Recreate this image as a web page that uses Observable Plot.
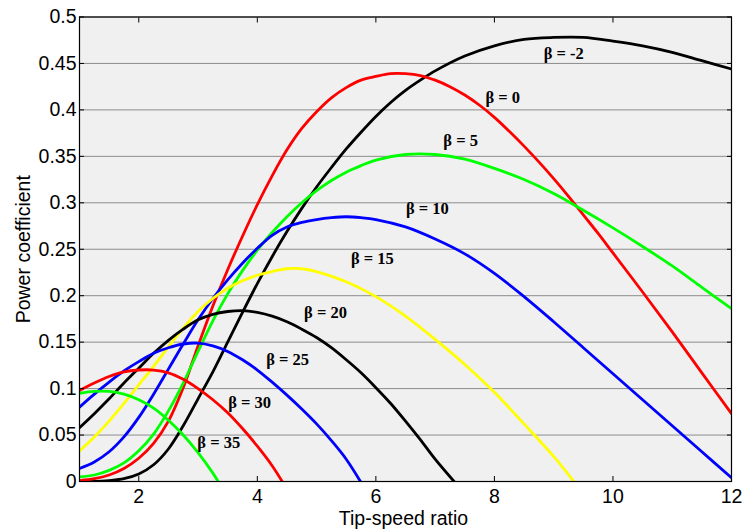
<!DOCTYPE html>
<html><head><meta charset="utf-8">
<script src="https://cdn.jsdelivr.net/npm/d3@7"></script>
<script src="https://cdn.jsdelivr.net/npm/@observablehq/plot@0.6"></script>
<style>html,body{margin:0;padding:0;background:#fff;}</style>
</head><body><div id="chart"></div>
<script>
// Tick labels
const xTicks = [2, 4, 6, 8, 10, 12];
const yTicks = [0, 0.05, 0.1, 0.15, 0.2, 0.25, 0.3, 0.35, 0.4, 0.45, 0.5];

// Curves (tip-speed ratio, power coefficient)
const lamBm2 = [1,1.25,1.5,1.75,2,2.25,2.5,2.75,3,3.25,3.5,3.75,4,4.25,4.5,4.75,5,5.25,5.5,5.75,6,6.25,6.5,6.75,7,7.5,8,8.5,9,9.5,10,10.5,11,11.5,12];
const cpBm2  = [0,0,0.001,0.003,0.008,0.018,0.035,0.060,0.089,0.118,0.150,0.182,0.213,0.242,0.269,0.294,0.317,0.338,0.358,0.376,0.393,0.408,0.421,0.432,0.442,0.458,0.469,0.476,0.478,0.478,0.474,0.469,0.462,0.453,0.444];

const lamB0 = [1,1.25,1.5,1.75,2,2.25,2.5,2.75,3,3.25,3.5,3.75,4,4.25,4.5,4.75,5,5.25,5.5,5.75,6,6.25,6.5,6.75,7,7.25,7.5,7.75,8,8.25,8.5,8.75,9,9.25,9.5,9.75,10,10.5,11,11.5,12];
const cpB0  = [0.001,0.003,0.007,0.014,0.025,0.041,0.065,0.101,0.146,0.189,0.228,0.264,0.298,0.329,0.357,0.380,0.398,0.413,0.424,0.432,0.436,0.439,0.439,0.437,0.432,0.425,0.416,0.405,0.392,0.377,0.361,0.344,0.326,0.307,0.287,0.267,0.246,0.204,0.161,0.117,0.073];

const lamB5 = [1,1.25,1.5,1.75,2,2.25,2.5,2.75,3,3.25,3.5,3.75,4,4.25,4.5,4.75,5,5.25,5.5,5.75,6,6.5,7,7.5,8,8.5,9,9.5,10,10.5,11,11.5,12];
const cpB5  = [0.005,0.007,0.012,0.020,0.033,0.051,0.076,0.106,0.140,0.173,0.202,0.227,0.249,0.268,0.285,0.300,0.313,0.324,0.333,0.340,0.346,0.352,0.352,0.347,0.337,0.325,0.310,0.292,0.273,0.253,0.232,0.209,0.186];

const lamB10 = [1,1.25,1.5,1.75,2,2.25,2.5,2.75,3,3.25,3.5,3.75,4,4.25,4.5,4.75,5,5.25,5.5,5.75,6,6.5,7,7.5,8,8.5,9,9.5,10,10.5,11,11.5,12];
const cpB10  = [0.014,0.021,0.032,0.048,0.069,0.094,0.121,0.148,0.174,0.197,0.217,0.235,0.251,0.265,0.274,0.279,0.282,0.284,0.285,0.284,0.282,0.274,0.261,0.245,0.224,0.199,0.172,0.144,0.116,0.088,0.060,0.032,0.004];

const lamB15 = [1,1.25,1.5,1.75,2,2.25,2.5,2.75,3,3.25,3.5,3.75,4,4.25,4.5,4.75,5,5.5,6,6.5,7,7.5,8,8.5,9,9.34];
const cpB15  = [0.033,0.048,0.065,0.084,0.104,0.124,0.145,0.165,0.183,0.197,0.208,0.216,0.222,0.226,0.229,0.229,0.226,0.215,0.199,0.178,0.153,0.126,0.096,0.062,0.027,0];

const lamB20 = [1,1.25,1.5,1.75,2,2.25,2.5,2.75,3,3.25,3.5,3.75,4,4.25,4.5,4.75,5,5.25,5.5,5.75,6,6.25,6.5,6.75,7,7.32];
const cpB20  = [0.058,0.073,0.089,0.106,0.122,0.138,0.152,0.164,0.174,0.180,0.183,0.184,0.182,0.178,0.172,0.164,0.155,0.144,0.131,0.117,0.101,0.084,0.065,0.045,0.024,0];

const lamB25 = [1,1.25,1.5,1.75,2,2.25,2.5,2.75,3,3.25,3.5,3.75,4,4.25,4.5,4.75,5,5.25,5.5,5.74];
const cpB25  = [0.080,0.094,0.107,0.119,0.129,0.138,0.144,0.148,0.149,0.146,0.140,0.131,0.120,0.107,0.093,0.078,0.062,0.044,0.024,0];

const lamB30 = [1,1.25,1.5,1.75,2,2.25,2.5,2.75,3,3.25,3.5,3.75,4,4.25,4.42];
const cpB30  = [0.098,0.106,0.113,0.118,0.120,0.120,0.117,0.110,0.100,0.088,0.074,0.057,0.038,0.017,0];

const lamB35 = [1,1.25,1.5,1.75,2,2.25,2.5,2.75,3,3.25,3.34];
const cpB35  = [0.095,0.097,0.097,0.094,0.088,0.079,0.066,0.050,0.031,0.009,0];

const betas = [-2, 0, 5, 10, 15, 20, 25, 30, 35];
const lams = [lamBm2, lamB0, lamB5, lamB10, lamB15, lamB20, lamB25, lamB30, lamB35];
const cps  = [cpBm2, cpB0, cpB5, cpB10, cpB15, cpB20, cpB25, cpB30, cpB35];

// Curve labels and their anchor positions (data coordinates)
const labelText = ["β = -2","β = 0","β = 5","β = 10","β = 15","β = 20","β = 25","β = 30","β = 35"];
const labelLam  = [9.17, 8.14, 7.43, 6.87, 5.94, 5.15, 4.51, 3.87, 3.35];
const labelCp   = [0.461, 0.413, 0.367, 0.294, 0.240, 0.182, 0.131, 0.085, 0.042];

// Styles
const colorOf = {"-2": "#000000", "0": "#ff0000", "5": "#00ff00", "10": "#0000ff", "15": "#ffff00",
                 "20": "#000000", "25": "#0000ff", "30": "#ff0000", "35": "#00ff00"};

const rows = betas.flatMap((b, k) => lams[k].map((x, i) => ({beta: b, x, y: cps[k][i]})));
const labels = labelText.map((t, i) => ({text: t, x: labelLam[i], y: labelCp[i]}));

const sans = "'Liberation Sans', Arial, Helvetica, sans-serif";
const blank = () => "";

const chart = Plot.plot({
  width: 742,
  height: 529,
  marginLeft: 79,
  marginRight: 11,
  marginTop: 16.5,
  marginBottom: 48,
  x: {domain: [1, 12]},
  y: {domain: [0, 0.5]},
  color: {type: "identity"},
  style: {fontFamily: sans, fontSize: "19.5px", background: "#fff", color: "#000"},
  marks: [
    Plot.frame({fill: "#f0f0f0", stroke: null}),
    Plot.ruleY(yTicks, {stroke: "#8c8c8c", strokeWidth: 1}),
    Plot.line(rows, {x: "x", y: "y", z: "beta", stroke: d => colorOf[d.beta], strokeWidth: 2.8, curve: "catmull-rom", clip: true}),
    Plot.text(labels, {x: "x", y: "y", text: "text", fontFamily: "'Liberation Serif', 'Times New Roman', serif", fontWeight: "bold", fontSize: 16.5, fill: "#000"}),
    Plot.frame({stroke: "#000", strokeWidth: 1.2}),
    Plot.axisX({ticks: xTicks, anchor: "bottom", tickSize: 0, tickPadding: 8, label: null}),
    Plot.axisX({ticks: xTicks, anchor: "bottom", tickSize: 5, dy: -5, tickFormat: blank, label: null}),
    Plot.axisX({ticks: xTicks, anchor: "top", tickSize: 5, dy: 5, tickFormat: blank, label: null}),
    Plot.axisY({ticks: yTicks, anchor: "left", tickSize: 0, tickPadding: 3, tickFormat: d => String(+d.toFixed(2)), label: null}),
    Plot.axisY({ticks: yTicks, anchor: "left", tickSize: 5, dx: 5, tickFormat: blank, label: null}),
    Plot.axisY({ticks: yTicks, anchor: "right", tickSize: 5, dx: -5, tickFormat: blank, label: null}),
    Plot.text(["Tip-speed ratio"], {frameAnchor: "bottom", lineAnchor: "middle", textAnchor: "middle", dx: -2, dy: 37, fontSize: 19.5, fill: "#000"}),
    Plot.text(["Power coefficient"], {frameAnchor: "left", lineAnchor: "middle", textAnchor: "middle", dx: -56, rotate: -90, fontSize: 19.5, fill: "#000"})
  ]
});
document.getElementById("chart").appendChild(chart);
</script></body></html>
